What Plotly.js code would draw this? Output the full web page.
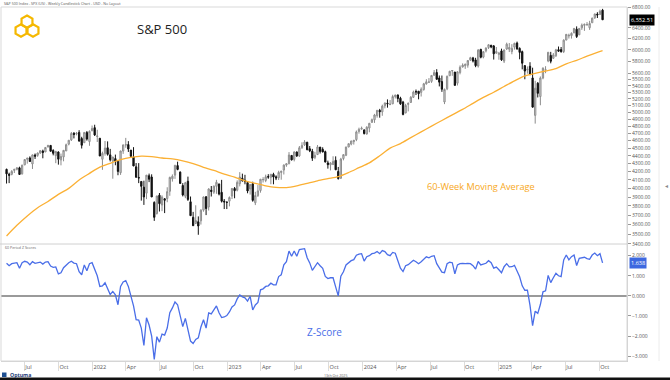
<!DOCTYPE html>
<html><head><meta charset="utf-8">
<script src="https://cdn.plot.ly/plotly-3.0.1.min.js"></script>
<style>html,body{margin:0;padding:0;background:#fff;overflow:hidden}#chart{width:670px;height:380px}</style>
</head><body><div id="chart"></div>
<script>
// ---- DATA ----
const firstWeek = '2021-05-14'; // weekly bars, one per week
const opens = [
4229,4169,4168,4216,4230,4248,4174,4285,4356,4373,4296,4410,4406,4438,4462,4450,4514,4536,4469,4402,4450,4348,4386,4463,4553,4610,4702,4690,4712,4628,4572,4710,4587,4733,
4778,4655,4632,4356,4432,4505,4412,4332,4364,4327,4188,4462,4541,4547,4474,4385,4260,4130,4082,4014,3944,4151,4135,3839,3716,3921,3810,3880,3883,3966,4113,4158,4276,4195,4034,3910,4084,3846,3675,3610,3628,3638,3753,3902,3788,3978,3956,4024,4053,3954,3853,3844,
3853,3911,3999,3979,4055,4120,4097,4068,3993,4055,3835,3917,3975,4102,4093,4141,4132,4167,4137,4126,4191,4220,4282,4300,4405,4354,4450,4399,4505,4543,4578,4492,4459,4380,4416,4514,4484,4454,4310,4285,4289,4342,4203,4120,4365,4407,4515,4554,4586,4614,4725,4758,
4745,4690,4772,4853,4889,4950,5026,5004,5094,5132,5111,5123,5234,5258,5207,5150,4988,5115,5143,5222,5311,5316,5298,5341,5431,5459,5471,5572,5615,5526,5468,5151,5354,5562,5640,5623,5442,5615,5707,5727,5737,5823,5860,5826,5723,6009,5874,5983,6040,6083,6069,5943,
5920,5982,5806,6015,6012,5970,6048,6121,6026,5969,5730,5655,5719,5527,4953,5442,5233,5526,5656,5808,5903,5855,5897,6004,6005,5970,6174,6250,6255,6304,6375,6271,6400,6445,6457,6401,6495,6590,6662,6656,6740];
const highs = [
4238,4188,4219,4234,4255,4262,4287,4356,4372,4393,4415,4430,4441,4468,4480,4513,4545,4536,4486,4465,4457,4429,4475,4560,4608,4718,4714,4718,4743,4652,4713,4731,4740,4808,
4819,4749,4632,4454,4595,4590,4490,4385,4416,4327,4466,4546,4637,4593,4475,4513,4308,4307,4082,4091,4159,4177,4168,3851,3914,3946,3919,3888,4013,4140,4167,4280,4325,4204,4062,4077,4140,3906,3734,3807,3685,3763,3905,3911,4001,4028,4034,4101,4053,4101,3877,3846,
3907,4004,4016,4095,4195,4176,4162,4068,4049,4079,3960,4039,4110,4133,4164,4170,4170,4187,4155,4212,4213,4291,4305,4448,4408,4458,4456,4528,4578,4607,4584,4528,4490,4452,4541,4514,4511,4467,4338,4318,4394,4393,4259,4374,4418,4520,4560,4599,4610,4738,4778,4793,
4755,4798,4843,4907,4975,5030,5048,5111,5140,5190,5180,5261,5265,5264,5230,5168,5123,5146,5240,5325,5342,5316,5376,5447,5506,5524,5570,5656,5670,5566,5566,5358,5564,5643,5651,5623,5636,5733,5767,5765,5823,5879,5878,5862,6013,6018,5973,6044,6099,6086,6085,6050,
5965,6021,6007,6128,6121,6101,6127,6147,6044,5987,5730,5716,5787,5695,5481,5459,5551,5700,5720,5958,5965,5944,6017,6059,6050,6187,6284,6291,6315,6395,6427,6395,6481,6478,6508,6532,6593,6672,6699,6750,6765];
const lows = [
4057,4062,4156,4184,4217,4165,4165,4281,4300,4322,4234,4360,4387,4423,4368,4450,4514,4458,4406,4306,4288,4279,4330,4463,4537,4595,4630,4672,4585,4495,4572,4600,4531,4733,
4663,4582,4396,4223,4402,4402,4328,4115,4280,4157,4161,4425,4505,4450,4382,4268,4129,4062,3859,3811,3876,4074,3900,3637,3705,3738,3742,3721,3841,3914,4080,4113,4218,4058,3907,3887,3856,3690,3584,3603,3492,3598,3736,3699,3749,3906,3936,3937,3919,3838,3765,3765,
3795,3877,3886,3965,4023,4080,4048,3943,3928,3847,3809,3901,3950,4069,4073,4114,4049,4048,4098,4099,4103,4166,4261,4292,4341,4329,4385,4386,4491,4528,4474,4448,4335,4357,4413,4430,4445,4318,4238,4216,4284,4220,4104,4115,4342,4396,4513,4537,4547,4593,4695,4751,
4683,4682,4714,4845,4845,4920,4920,4947,5056,5066,5105,5119,5204,5147,5107,4954,4985,5011,5142,5212,5257,5191,5234,5325,5420,5448,5447,5557,5497,5391,5306,5119,5332,5560,5561,5402,5406,5585,5698,5675,5695,5808,5783,5703,5697,5853,5853,5955,6015,6029,5832,5933,
5829,5809,5773,5999,5962,5923,6004,6008,5837,5667,5505,5597,5572,5069,4835,5220,5102,5505,5604,5787,5768,5843,5878,5964,5952,5944,6173,6202,6201,6303,6213,6264,6361,6343,6441,6361,6495,6570,6586,6643,6551];
const closes = [
4174,4156,4204,4230,4247,4166,4281,4352,4370,4327,4412,4395,4437,4468,4442,4509,4535,4459,4433,4455,4357,4391,4471,4545,4605,4698,4683,4698,4595,4538,4712,4621,4726,4766,
4677,4663,4398,4432,4501,4419,4349,4385,4329,4204,4463,4543,4546,4488,4393,4272,4132,4123,4024,3901,4158,4109,3901,3675,3912,3825,3899,3863,3962,4130,4145,4280,4228,4058,3924,4067,3873,3693,3586,3640,3583,3753,3901,3771,3993,3965,4026,4072,3934,3852,3845,3840,
3895,3999,3973,4071,4136,4090,4079,3970,4046,3862,3917,3971,4109,4105,4138,4134,4169,4136,4124,4192,4205,4282,4299,4410,4348,4450,4399,4505,4536,4582,4478,4464,4370,4406,4516,4457,4450,4320,4288,4309,4328,4224,4117,4358,4415,4514,4559,4595,4604,4719,4755,4770,
4697,4784,4840,4891,4959,5027,5006,5089,5137,5124,5117,5234,5254,5204,5123,4967,5100,5128,5223,5303,5305,5278,5347,5432,5465,5460,5567,5615,5505,5459,5347,5344,5554,5635,5648,5408,5626,5703,5738,5751,5815,5865,5808,5729,5996,5871,5969,6032,6090,6051,5931,5971,
5942,5827,5997,6101,6041,6026,6115,6013,5955,5770,5639,5668,5581,5074,5363,5283,5525,5687,5660,5958,5803,5912,6000,5977,5968,6173,6279,6260,6297,6389,6238,6389,6450,6467,6460,6482,6584,6664,6644,6716,6552.51];
// 60-week moving average, read every 4th week (last point = final week)
const maEvery = 4;
const maValues = [3480,3590,3690,3780,3850,3930,4000,4100,4180,4257,4305,4350,4380,4396,4390,4372,4360,4335,4300,4255,4215,4170,4135,4090,4060,4030,4012,4010,4030,4060,4090,4115,4140,4190,4250,4310,4400,4500,4560,4640,4720,4800,4880,4960,5040,5130,5220,5300,5390,5480,5560,5600,5640,5680,5760,5820,5890,5955,5985];
// 60 period Z score
const zScores = [
1.62,1.5,1.6,1.62,1.65,1.37,1.65,1.72,1.68,1.55,1.7,1.62,1.66,1.68,1.58,1.68,1.7,1.48,1.42,1.44,1.09,1.15,1.4,1.55,1.65,1.72,1.63,1.6,1.2,1.05,1.54,1.25,1.6,1.65,
1.35,1.0,0.47,0.5,0.65,0.37,0.07,0.22,0.05,-0.44,0.47,0.69,0.76,0.47,0.0,-0.5,-1.18,-1.2,-1.6,-2.47,-1.09,-1.45,-2.0,-3.16,-2.03,-2.3,-1.9,-1.95,-1.6,-0.84,-0.6,-0.3,-0.44,-1.02,-1.53,-1.12,-1.7,-2.25,-2.37,-2.17,-2.09,-1.55,-1.19,-1.6,-0.85,-0.9,-0.7,-0.5,-0.84,-1.08,-1.05,-0.98,
-0.8,-0.55,-0.45,-0.15,0.05,-0.05,-0.1,-0.26,-0.02,-0.7,-0.45,-0.33,0.3,0.35,0.47,0.5,0.63,0.55,0.55,0.96,1.05,1.54,1.7,2.23,1.97,2.23,1.97,2.3,2.33,2.35,1.9,1.64,1.27,1.45,1.65,1.5,1.37,0.97,0.86,0.9,0.9,0.45,0.0,0.98,1.2,1.54,1.65,1.75,1.8,2.02,2.08,2.1,
1.73,1.95,2.0,2.1,2.13,2.21,2.1,2.25,2.2,2.05,2.0,2.16,2.12,1.75,1.38,1.21,1.5,1.55,1.64,1.77,1.7,1.6,1.7,1.84,1.94,1.89,1.97,2.0,1.6,1.39,1.18,1.15,1.6,1.67,1.65,1.1,1.54,1.6,1.62,1.6,1.62,1.6,1.5,1.33,1.71,1.54,1.6,1.62,1.75,1.65,1.38,1.43,
1.3,1.15,1.45,1.6,1.44,1.45,1.52,1.27,0.95,0.5,0.28,0.28,-0.47,-1.48,-0.76,-0.87,-0.43,0.2,0.25,1.02,0.66,0.9,1.12,1.0,0.96,1.79,2.03,1.79,1.95,2.03,1.51,1.87,1.9,1.92,1.85,1.82,2.03,2.13,2.0,2.1,1.638];
// 6600 sits under the last-price box in the reference, so it is not listed
const priceTicks = [3400,3500,3600,3700,3800,3900,4000,4100,4200,4300,4400,4500,4600,4700,4800,4900,5000,5100,5200,5300,5400,5500,5600,5800,6000,6200,6400,6800];
const zTicks = [-3,-2,-1,0,1,2];
const dateTicks = ['2021-07-01','2021-10-01','2022-01-01','2022-04-01','2022-07-01','2022-10-01','2023-01-01','2023-04-01','2023-07-01','2023-10-01','2024-01-01','2024-04-01','2024-07-01','2024-10-01','2025-01-01','2025-04-01','2025-07-01','2025-10-01'];
const dateTickText = ['Jul','Oct','2022','Apr','Jul','Oct','2023','Apr','Jul','Oct','2024','Apr','Jul','Oct','2025','Apr','Jul','Oct'];

// ---- BUILD ----
const W = 670, H = 380;
const px = x => x / W, py = y => 1 - y / H;
const start = new Date(firstWeek + 'T00:00:00Z');
const weeks = closes.map((_, i) => { const d = new Date(start); d.setUTCDate(d.getUTCDate() + 7 * i); return d.toISOString().slice(0, 10); });
const maX = maValues.map((_, k) => weeks[Math.min(k * maEvery, weeks.length - 1)]);
const last = closes.length - 1;
const fmt = v => v.toLocaleString('en-US', {minimumFractionDigits: 2, maximumFractionDigits: 2});

const FONT = 'Open Sans, Noto Sans, sans-serif';
const traces = [
  {type: 'candlestick', x: weeks, open: opens, high: highs, low: lows, close: closes, xaxis: 'x', yaxis: 'y',
   increasing: {line: {color: '#8c8c8c', width: 1}, fillcolor: '#dedede'},
   decreasing: {line: {color: '#111111', width: 1}, fillcolor: '#111111'},
   whiskerwidth: 0, hoverinfo: 'skip', showlegend: false},
  {type: 'scatter', mode: 'lines', x: maX, y: maValues, xaxis: 'x', yaxis: 'y',
   line: {color: '#FBB034', width: 1.3, shape: 'spline', smoothing: 0.8}, hoverinfo: 'skip', showlegend: false},
  {type: 'scatter', mode: 'lines', x: weeks, y: zScores, xaxis: 'x', yaxis: 'y2',
   line: {color: '#4A6EE8', width: 1.3}, hoverinfo: 'skip', showlegend: false}
];

function hexPath(cx, cy, r) {
  let p = '';
  for (let k = 0; k < 6; k++) {
    const a = (-90 + 60 * k) * Math.PI / 180;
    p += (k === 0 ? 'M ' : ' L ') + px(cx + r * Math.cos(a)).toFixed(5) + ',' + py(cy + r * Math.sin(a)).toFixed(5);
  }
  return p + ' Z';
}
const logoColor = '#F5B800';
const shapes = [
  {type: 'rect', xref: 'paper', yref: 'paper', x0: px(1), x1: px(627), y0: py(361), y1: py(7), line: {color: '#d9d9d9', width: 1}},
  {type: 'line', xref: 'paper', yref: 'paper', x0: 0, x1: px(627), y0: py(244), y1: py(244), line: {color: '#d0d0d0', width: 1}},
  {type: 'line', xref: 'paper', yref: 'paper', x0: px(659), x1: px(659), y0: py(361), y1: py(7), line: {color: '#ececec', width: 1}},
  {type: 'rect', xref: 'paper', yref: 'paper', x0: 0, x1: 1, y0: 0, y1: py(377.5), fillcolor: '#111', line: {width: 0}},
  {type: 'rect', xref: 'paper', yref: 'paper', x0: px(2), x1: px(6.5), y0: py(377), y1: py(372.5), fillcolor: '#1d4f91', line: {width: 0}},
  {type: 'path', xref: 'paper', yref: 'paper', path: hexPath(27, 21.8, 6.3), line: {color: logoColor, width: 2.2}},
  {type: 'path', xref: 'paper', yref: 'paper', path: hexPath(21, 30.5, 6.3), line: {color: logoColor, width: 2.2}},
  {type: 'path', xref: 'paper', yref: 'paper', path: hexPath(33, 30.5, 6.3), line: {color: logoColor, width: 2.2}}
];

const ann = (o) => Object.assign({xref: 'paper', yref: 'paper', showarrow: false, xanchor: 'left', yanchor: 'middle'}, o);
const annotations = [
  ann({x: px(2), y: py(3), text: 'S&P 500 Index - SPX (US) - Weekly Candlestick Chart - USD - No Layout', font: {family: FONT, size: 3.6, color: '#555'}}),
  ann({x: px(161.5), xanchor: 'center', y: py(29), text: 'S&P 500', font: {family: FONT, size: 13, color: '#222'}}),
  ann({x: px(481), xanchor: 'center', y: py(186), text: '60-Week Moving Average', font: {family: FONT, size: 9.2, color: '#F7A823'}}),
  ann({x: px(324.5), xanchor: 'center', y: py(332), text: 'Z-Score', font: {family: FONT, size: 10, color: '#4A6EE8'}}),
  ann({x: px(3), y: py(247.5), text: '60 Period Z Scores', font: {family: FONT, size: 3.6, color: '#666'}}),
  ann({x: px(335), xanchor: 'center', y: py(375), text: '13th Oct 2025', font: {family: FONT, size: 3.6, color: '#666'}}),
  ann({x: px(7.5), y: py(375), text: '<b>Optuma</b>', font: {family: FONT, size: 5.2, color: '#1d3c78'}}),
  ann({x: px(666), xanchor: 'center', y: py(186), text: '◂', font: {family: FONT, size: 6, color: '#888'}}),
  ann({x: px(628.5), yref: 'y', y: Math.log10(closes[last]), text: fmt(closes[last]), bgcolor: '#000', borderpad: 1,
       font: {family: FONT, size: 5.6, color: '#fff'}}),
  ann({x: px(628.5), yref: 'y2', y: zScores[last], text: zScores[last].toFixed(3), bgcolor: '#3D68E0', borderpad: 1,
       font: {family: FONT, size: 5.6, color: '#fff'}})
];

const axFont = {family: FONT, size: 5, color: '#555'};
const layout = {
  width: W, height: H, margin: {l: 0, r: 0, t: 0, b: 0},
  paper_bgcolor: '#fff', plot_bgcolor: '#fff', showlegend: false,
  font: {family: FONT},
  xaxis: {domain: [px(1), px(627)], range: ['2021-04-29', '2025-12-15'], anchor: 'y2', type: 'date',
          tickmode: 'array', tickvals: dateTicks, ticktext: dateTickText,
          ticks: 'outside', ticklen: 9, tickcolor: '#dcdcdc', tickwidth: 1,
          ticklabelposition: 'outside right', ticklabelstandoff: 0,
          tickfont: {family: FONT, size: 5.6, color: '#555'}, showgrid: false, zeroline: false, showline: true, linecolor: '#d0d0d0',
          rangeslider: {visible: false}, fixedrange: true},
  yaxis: {domain: [1 - 244 / H, 1 - 7 / H], type: 'log', range: [Math.log10(3399), Math.log10(6802)],
          side: 'right', anchor: 'x', tickmode: 'array', tickvals: priceTicks, tickformat: '.2f',
          ticks: 'outside', ticklen: 3, tickcolor: '#999', tickfont: axFont, ticklabeloverflow: 'allow',
          showgrid: false, zeroline: false, showline: true, linecolor: '#d0d0d0', fixedrange: true},
  yaxis2: {domain: [1 - 361 / H, 1 - 244 / H], range: [-3.24, 2.58],
           side: 'right', anchor: 'x', tickmode: 'array', tickvals: zTicks, tickformat: '.3f',
           ticks: 'outside', ticklen: 3, tickcolor: '#999', tickfont: axFont, ticklabeloverflow: 'allow',
           showgrid: false, zeroline: true, zerolinecolor: '#9a9a9a', zerolinewidth: 1.5,
           showline: true, linecolor: '#d0d0d0', fixedrange: true},
  shapes: shapes, annotations: annotations
};
Plotly.newPlot('chart', traces, layout, {staticPlot: true, displayModeBar: false});
</script></body></html>
